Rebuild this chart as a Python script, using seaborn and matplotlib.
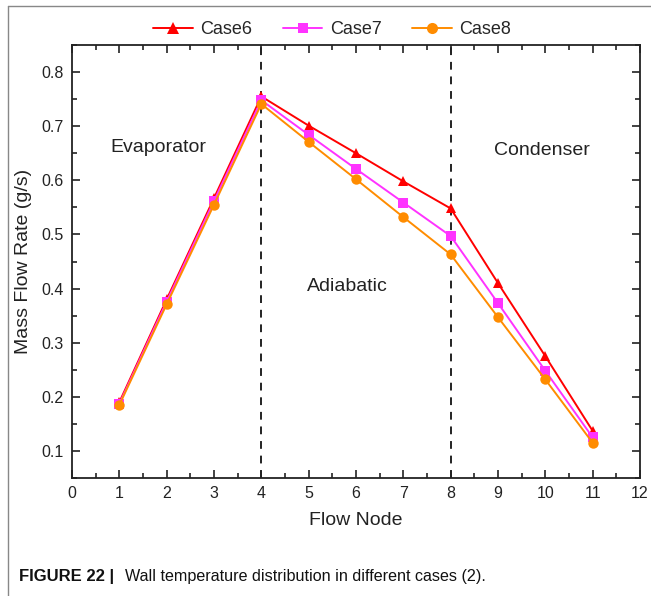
import matplotlib
matplotlib.use("Agg")
import matplotlib.pyplot as plt
import seaborn as sns
import pandas as pd
from matplotlib.lines import Line2D
from matplotlib.ticker import MultipleLocator

nodes = [1, 2, 3, 4, 5, 6, 7, 8, 9, 10, 11]
case6 = [0.190, 0.380, 0.567, 0.755, 0.701, 0.650, 0.598, 0.548, 0.410, 0.275, 0.137]
case7 = [0.187, 0.376, 0.562, 0.748, 0.684, 0.621, 0.559, 0.497, 0.373, 0.248, 0.125]
case8 = [0.185, 0.371, 0.555, 0.741, 0.671, 0.602, 0.532, 0.463, 0.347, 0.232, 0.115]
series_names = ["Case6", "Case7", "Case8"]
colors = {"Case6": "#FF0000", "Case7": "#FF33FF", "Case8": "#FF8C00"}
markers = {"Case6": "^", "Case7": "s", "Case8": "o"}
msizes = {"Case6": 8, "Case7": 7, "Case8": 8}
region_labels = ["Evaporator", "Adiabatic", "Condenser"]

df = pd.DataFrame({
    "Flow Node": nodes * 3,
    "Mass Flow Rate": case6 + case7 + case8,
    "Case": sum([[n] * len(nodes) for n in series_names], []),
})

sns.set_style("ticks")
plt.rcParams["font.family"] = ["Liberation Sans", "DejaVu Sans"]

fig = plt.figure(figsize=(6.51, 5.96), dpi=100)
ax = fig.add_axes([72 / 651, 118 / 596, 568 / 651, 433 / 596])

sns.lineplot(data=df, x="Flow Node", y="Mass Flow Rate", hue="Case", style="Case",
             palette=colors, markers=markers, dashes=False, markersize=7.5,
             markeredgewidth=0, linewidth=1.4, ax=ax, legend=False)

for xv in (4, 8):
    ax.axvline(xv, color="#222222", linestyle=(0, (4, 3.5)), linewidth=1.4, zorder=1)

ax.set_xlim(0, 12)
ax.set_ylim(0.05, 0.85)
ax.xaxis.set_major_locator(MultipleLocator(1))
ax.xaxis.set_minor_locator(MultipleLocator(0.5))
ax.set_yticks([0.1, 0.2, 0.3, 0.4, 0.5, 0.6, 0.7, 0.8])
ax.yaxis.set_minor_locator(MultipleLocator(0.05))
ax.tick_params(which="both", direction="in", top=True, right=True, width=1.2, colors="#222222",
               labelcolor="#222222", labelsize=11.5, pad=6)
ax.tick_params(which="major", length=6)
ax.tick_params(which="minor", length=3.5)
for s in ax.spines.values():
    s.set_linewidth(1.3)
    s.set_color("#222222")

ax.set_xlabel("Flow Node", fontsize=14, color="#222222", labelpad=8)
ax.set_ylabel("Mass Flow Rate (g/s)", fontsize=14, color="#222222", labelpad=7)

ax.text(1.82, 0.66, region_labels[0], fontsize=14, ha="center", va="center", color="#222222")
ax.text(5.81, 0.404, region_labels[1], fontsize=14, ha="center", va="center", color="#222222")
ax.text(9.93, 0.656, region_labels[2], fontsize=14, ha="center", va="center", color="#222222")

handles = [Line2D([], [], color=colors[n], marker=markers[n], markersize=msizes[n],
                  markeredgewidth=0, linewidth=1.4) for n in series_names]
ax.legend(handles, series_names, loc="center", bbox_to_anchor=(332 / 651, 566 / 596),
          bbox_transform=fig.transFigure, ncol=3, frameon=False, fontsize=13,
          handlelength=2.2, columnspacing=1.7, handletextpad=0.4)

# outer frame lines
fig.add_artist(Line2D([8 / 651, 1.0], [1 - 6 / 596, 1 - 6 / 596], transform=fig.transFigure,
                      color="#888888", linewidth=1.0))
fig.add_artist(Line2D([8 / 651, 8 / 651], [0, 1 - 6 / 596], transform=fig.transFigure,
                      color="#888888", linewidth=1.0))

fig.text(19 / 651, 1 - 577 / 596, "FIGURE 22 |", fontsize=12, fontweight="bold",
         ha="left", va="center", color="#111111")
fig.text(125 / 651, 1 - 577 / 596, "Wall temperature distribution in different cases (2).",
         fontsize=11.6, ha="left", va="center", color="#111111")

fig.savefig("out.png", dpi=100)
